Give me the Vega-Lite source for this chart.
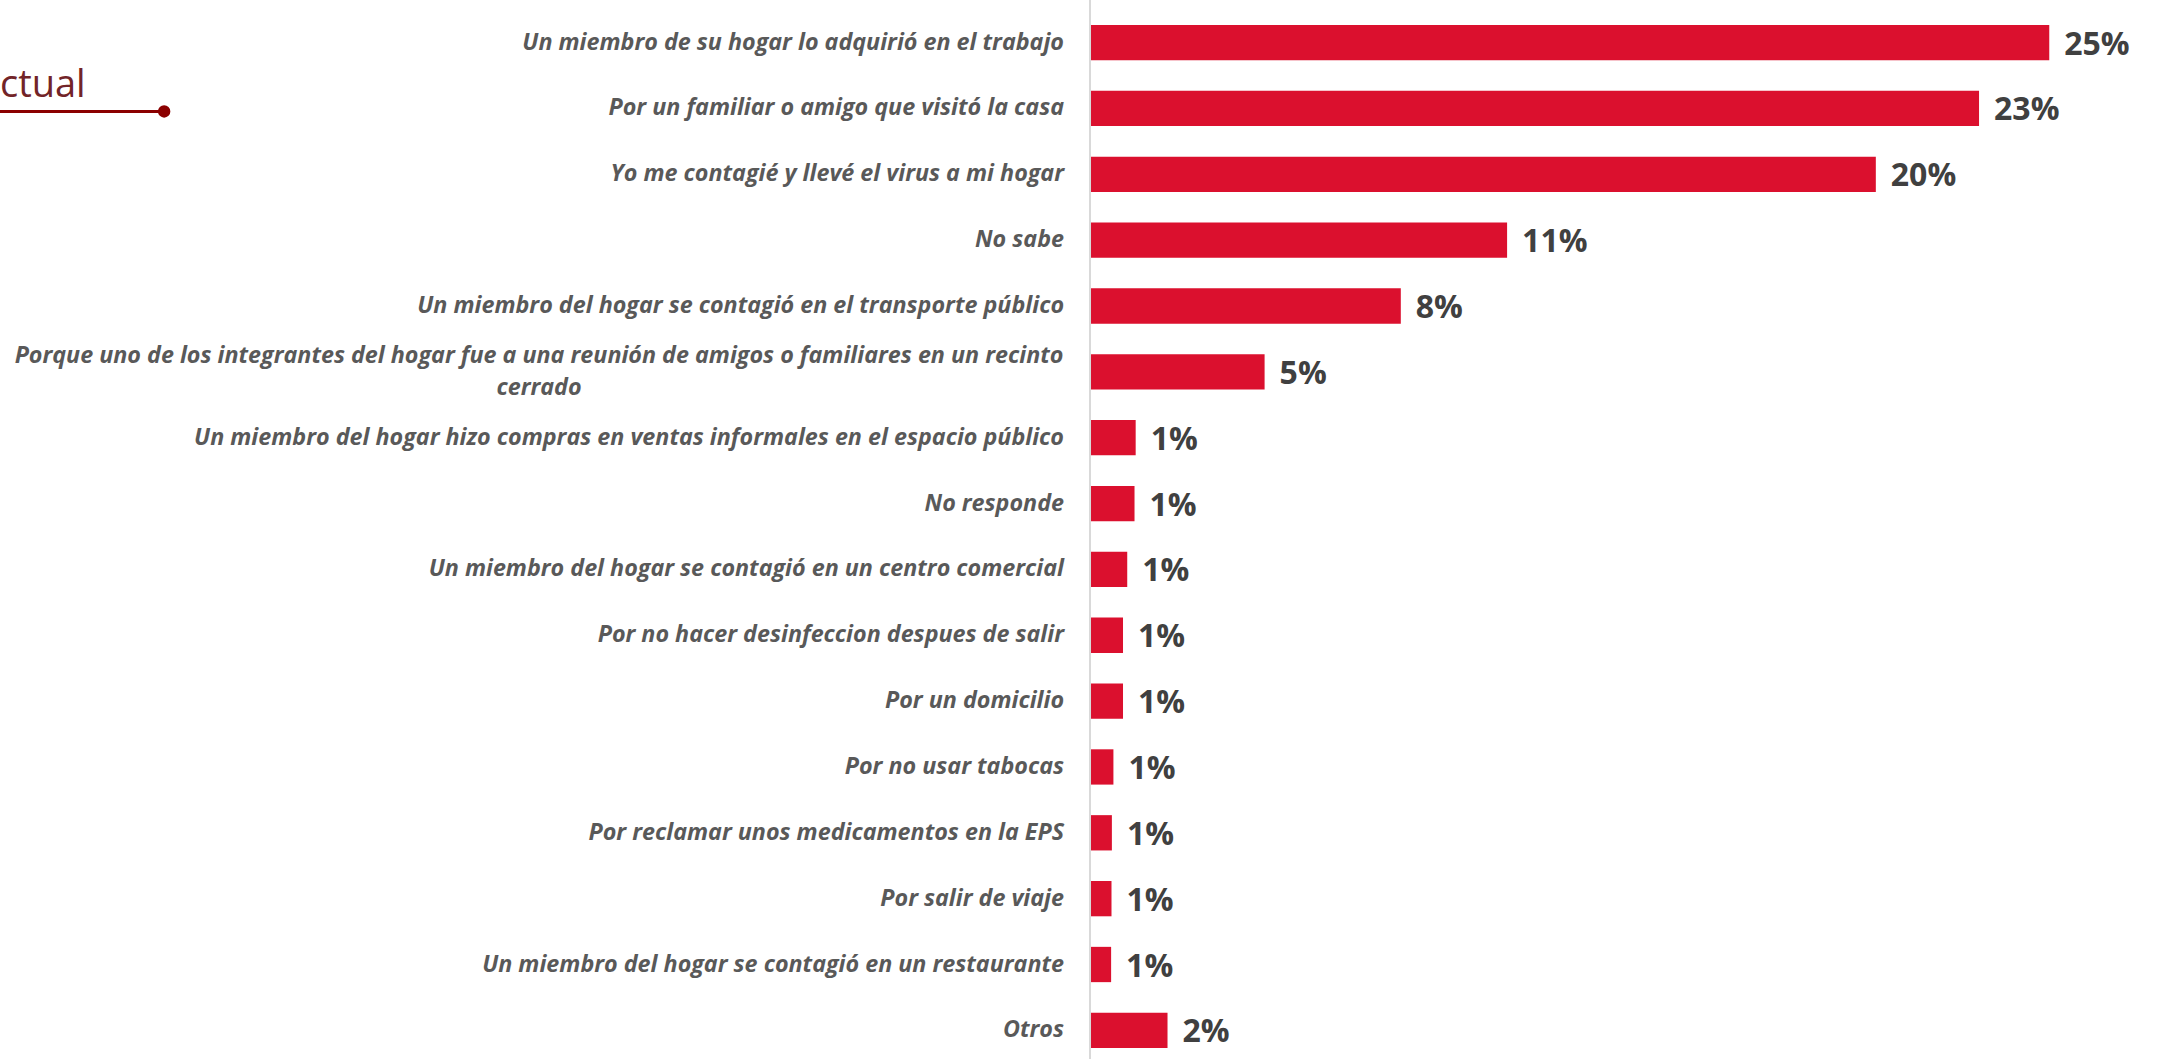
{
  "$schema": "https://vega.github.io/schema/vega-lite/v6.json",
  "width": 2158,
  "height": 1059,
  "autosize": "none",
  "padding": 0,
  "background": "white",
  "config": {"view": {"stroke": null}},
  "data": {
    "values": [
      {"cat": "Un miembro de su hogar lo adquirió en el trabajo", "value": 0.25},
      {"cat": "Por un familiar o amigo que visitó la casa", "value": 0.2317},
      {"cat": "Yo me contagié y llevé el virus a mi hogar", "value": 0.2048},
      {"cat": "No sabe", "value": 0.1087},
      {"cat": "Un miembro del hogar se contagió en el transporte público", "value": 0.081},
      {"cat": "Porque uno de los integrantes del hogar fue a una reunión de amigos o familiares en un recinto\ncerrado", "value": 0.0455},
      {"cat": "Un miembro del hogar hizo compras en ventas informales en el espacio público", "value": 0.0119},
      {"cat": "No responde", "value": 0.0116},
      {"cat": "Un miembro del hogar se contagió en un centro comercial", "value": 0.0097},
      {"cat": "Por no hacer desinfeccion despues de salir", "value": 0.0086},
      {"cat": "Por un domicilio", "value": 0.0086},
      {"cat": "Por no usar tabocas", "value": 0.0061},
      {"cat": "Por reclamar unos medicamentos en la EPS", "value": 0.0057},
      {"cat": "Por  salir de viaje", "value": 0.0056},
      {"cat": "Un miembro del hogar se contagió en un restaurante", "value": 0.0055},
      {"cat": "Otros", "value": 0.0202}
    ]
  },
  "encoding": {
    "y": {
      "field": "cat",
      "type": "nominal",
      "sort": null,
      "axis": null,
      "scale": {"paddingInner": 0.464, "paddingOuter": 0.273, "align": 0.694}
    }
  },
  "layer": [
    {
      "mark": {"type": "bar", "color": "#DB102E"},
      "encoding": {
        "x": {
          "field": "value",
          "type": "quantitative",
          "axis": null,
          "scale": {"domain": [-0.28408, 0.27834], "nice": false, "zero": false}
        }
      }
    },
    {
      "data": {"values": [{}]},
      "mark": {"type": "rule", "color": "#D9D9D9", "strokeWidth": 2},
      "encoding": {"x": {"datum": 0}, "y": null}
    },
    {
      "mark": {
        "type": "text",
        "align": "left",
        "baseline": "middle",
        "dx": 15,
        "dy": 2,
        "font": "Open Sans",
        "fontSize": 32,
        "fontWeight": "bold",
        "color": "#404040"
      },
      "encoding": {
        "x": {"field": "value", "type": "quantitative"},
        "text": {"field": "value", "type": "quantitative", "format": ".0%"}
      }
    },
    {
      "transform": [{"filter": "length(datum.cat) <= 90"}],
      "mark": {
        "type": "text",
        "align": "right",
        "baseline": "middle",
        "dx": -26,
        "font": "Open Sans",
        "fontSize": 23.3,
        "fontStyle": "italic",
        "fontWeight": "bold",
        "color": "#595959"
      },
      "encoding": {
        "x": {"datum": 0},
        "text": {"field": "cat", "type": "nominal"}
      }
    },
    {
      "transform": [{"filter": "length(datum.cat) > 90"}],
      "mark": {
        "type": "text",
        "align": "center",
        "baseline": "middle",
        "dx": -551,
        "dy": -16,
        "lineBreak": "\n",
        "lineHeight": 32,
        "font": "Open Sans",
        "fontSize": 23.3,
        "fontStyle": "italic",
        "fontWeight": "bold",
        "color": "#595959"
      },
      "encoding": {
        "x": {"datum": 0},
        "text": {"field": "cat", "type": "nominal"}
      }
    },
    {
      "data": {"values": [{}]},
      "mark": {"type": "rule", "color": "#8B0000", "strokeWidth": 3, "yOffset": 3},
      "encoding": {
        "x": {"datum": -0.2841},
        "x2": {"datum": -0.2413},
        "y": {"datum": "Por un familiar o amigo que visitó la casa"}
      }
    },
    {
      "data": {"values": [{}]},
      "mark": {"type": "point", "filled": true, "opacity": 1, "color": "#8B0000", "size": 154, "yOffset": 3},
      "encoding": {
        "x": {"datum": -0.2413},
        "y": {"datum": "Por un familiar o amigo que visitó la casa"}
      }
    },
    {
      "data": {"values": [{}]},
      "mark": {
        "type": "text",
        "text": "ctual",
        "align": "left",
        "baseline": "alphabetic",
        "dy": -11.6,
        "font": "Open Sans",
        "fontSize": 38,
        "color": "#722428"
      },
      "encoding": {
        "x": {"datum": -0.2841},
        "y": {"datum": "Por un familiar o amigo que visitó la casa"}
      }
    }
  ]
}
